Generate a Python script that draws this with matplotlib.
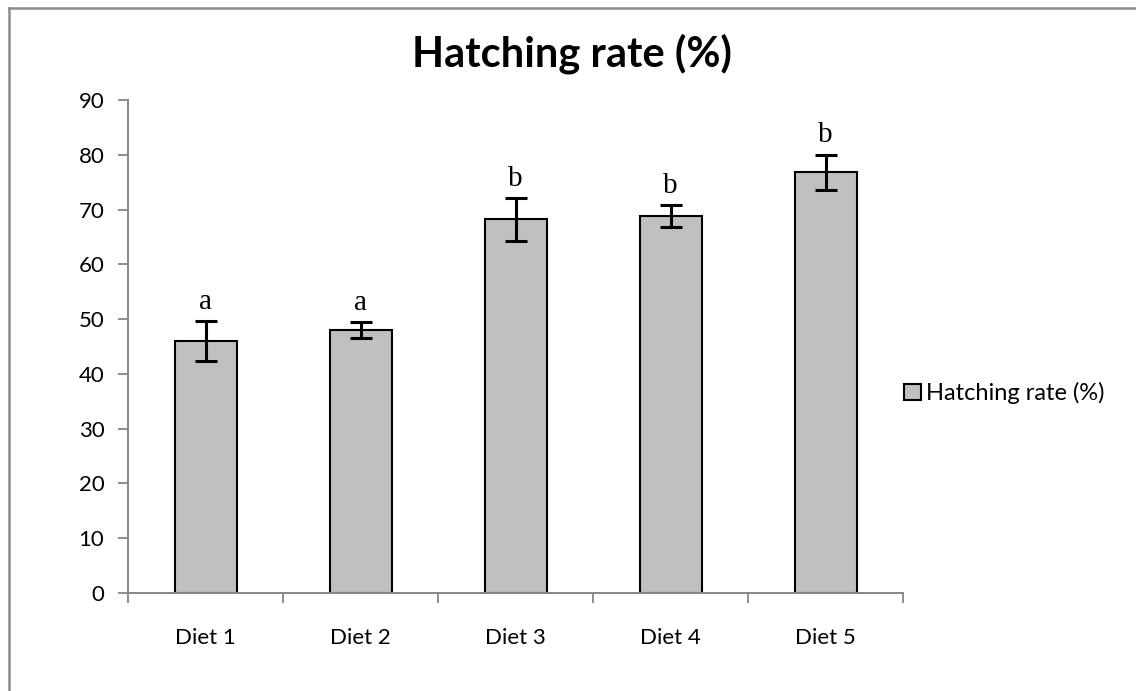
import matplotlib
matplotlib.use("Agg")
import matplotlib.pyplot as plt
from matplotlib.lines import Line2D

categories = ["Diet 1", "Diet 2", "Diet 3", "Diet 4", "Diet 5"]
means = [46.0, 48.0, 68.2, 68.8, 76.8]
errors = [3.6, 1.4, 3.9, 2.0, 3.2]
letters = ["a", "a", "b", "b", "b"]
yticks = [0, 10, 20, 30, 40, 50, 60, 70, 80, 90]
title = "Hatching rate (%)"
series_name = "Hatching rate (%)"

W, H = 1136, 691
fig = plt.figure(figsize=(W / 100, H / 100), dpi=100)
fig.patch.set_facecolor("white")

# outer chart border (only top & left visible in reference)
fig.add_artist(Line2D([8.5 / W, 8.5 / W], [0, 1 - 7.5 / H], transform=fig.transFigure,
                      color="#8c8c8c", lw=1.8))
fig.add_artist(Line2D([8.5 / W, 1], [1 - 7.5 / H, 1 - 7.5 / H], transform=fig.transFigure,
                      color="#8c8c8c", lw=1.8))

left, right, bottom, top = 128, 903, 593, 100
ax = fig.add_axes([left / W, 1 - bottom / H, (right - left) / W, (bottom - top) / H])

x = list(range(len(categories)))
bars = ax.bar(x, means, width=0.4, color="#c0c0c0", edgecolor="black", linewidth=1.5,
              label=series_name, zorder=2)
ax.errorbar(x, means, yerr=errors, fmt="none", ecolor="black", elinewidth=2.2,
            capsize=8, capthick=2.2, zorder=3)

for xi, m, e, l in zip(x, means, errors, letters):
    ax.annotate(l, (xi, m + e), xytext=(0, 9), textcoords="offset points",
                ha="center", va="baseline", fontsize=21, family="Liberation Serif")

ax.set_xlim(-0.5, len(categories) - 0.5)
ax.set_ylim(0, 90)
ax.set_yticks(yticks)
ax.set_yticklabels([str(v) for v in yticks], fontsize=16, family="Lato")
ax.set_xticks(x)
ax.set_xticklabels(categories, fontsize=16, family="Lato")
ax.set_xticks([i - 0.5 for i in range(len(categories) + 1)], minor=True)
ax.tick_params(axis="x", which="major", length=0, pad=25)
ax.tick_params(axis="x", which="minor", length=7, width=1.3, color="#868686", direction="out")
ax.tick_params(axis="y", which="major", length=7, width=1.3, color="#868686", direction="out", pad=10)

for s in ["top", "right"]:
    ax.spines[s].set_visible(False)
for s in ["left", "bottom"]:
    ax.spines[s].set_color("#868686")
    ax.spines[s].set_linewidth(1.4)

fig.text(572 / W, 1 - 54 / H, title, ha="center", va="center", fontsize=30,
         fontweight="bold", family="Lato")

fig.legend(handles=[bars], labels=[series_name], loc="center left",
           bbox_to_anchor=(904 / W, 1 - 393 / H), frameon=False,
           prop={"family": "Lato", "size": 17}, handlelength=0.7, handleheight=0.7,
           handletextpad=0.25, borderpad=0, borderaxespad=0)

fig.savefig("out.png", dpi=100)
